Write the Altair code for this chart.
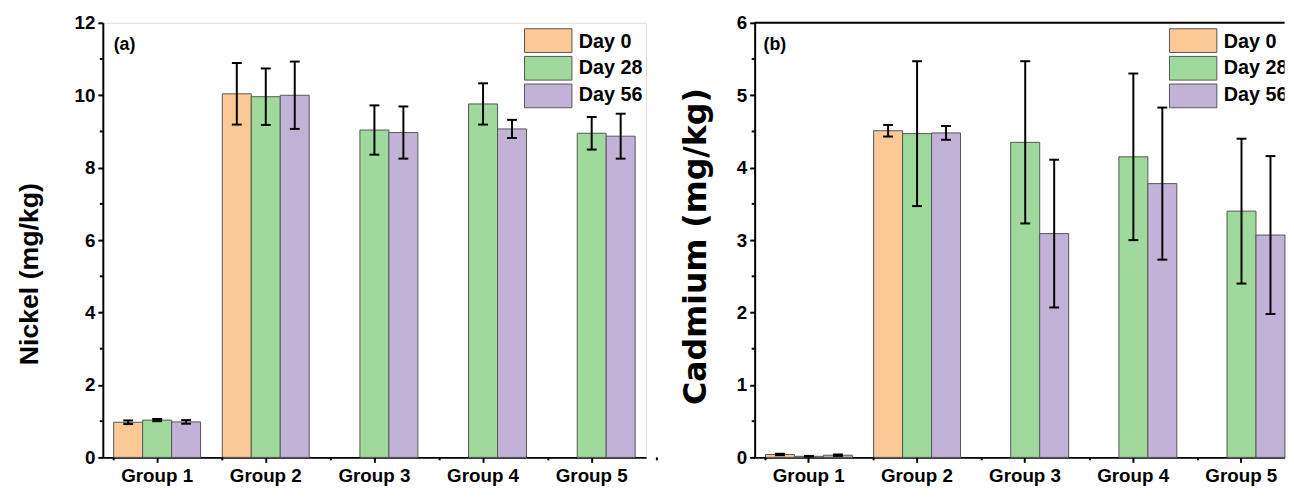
import altair as alt
import pandas as pd

groups = ["Group 1", "Group 2", "Group 3", "Group 4", "Group 5"]
days = ["Day 0", "Day 28", "Day 56"]
colors = ["#FCC896", "#9FD99C", "#C3B2D8"]

# Nickel (mg/kg)
ni_day0 = [0.97, 10.04, None, None, None]
ni_day0_err = [0.05, 0.85, None, None, None]
ni_day28 = [1.03, 9.96, 9.04, 9.76, 8.95]
ni_day28_err = [0.03, 0.78, 0.68, 0.57, 0.45]
ni_day56 = [0.98, 10.00, 8.97, 9.07, 8.87]
ni_day56_err = [0.05, 0.93, 0.72, 0.25, 0.62]

# Cadmium (mg/kg)
cd_day0 = [0.04, 4.51, None, None, None]
cd_day0_err = [0.01, 0.08, None, None, None]
cd_day28 = [0.015, 4.47, 4.35, 4.15, 3.40]
cd_day28_err = [0.005, 1.00, 1.12, 1.15, 1.00]
cd_day56 = [0.03, 4.48, 3.09, 3.78, 3.07]
cd_day56_err = [0.01, 0.095, 1.02, 1.05, 1.09]

ni_major = [0, 2, 4, 6, 8, 10, 12]
ni_minor = [1, 3, 5, 7, 9, 11]
cd_major = [0, 1, 2, 3, 4, 5, 6]
cd_minor = [0.5, 1.5, 2.5, 3.5, 4.5, 5.5]
x_minor_left = [0.5, 1.5, 2.5, 3.5, 4.5, 5.5]
x_minor_right = [0.5, 1.5, 2.5, 3.5, 4.5]

FONT = "Liberation Sans"
H = 440


def long(vals, errs):
    rows = []
    for d, vl, el in zip(days, vals, errs):
        for g, v, e in zip(groups, vl, el):
            if v is None:
                continue
            rows.append(dict(group=g, day=d, value=v, lo=v - e, hi=v + e))
    return pd.DataFrame(rows)


color_scale = alt.Scale(domain=days, range=colors)


def panel(df, ymax, major, minor, xminor, title, tfont, tsize, tpad, ttl_y, tag, tagx, legx,
          step, cropped):
    if cropped:
        # right panel is cut by the picture edge just after the last bar
        po, align = 0.05, 1.0
    else:
        po, align = 0.1, 0.5
    w = step * (5 - 0.2 + 2 * po)
    xsc = alt.Scale(domain=groups, paddingInner=0.2, paddingOuter=po, align=align)
    xaxis = alt.Axis(title=None, labelFont=FONT, labelFontSize=19, labelFontWeight="bold",
                     labelColor="black", labelAngle=0, tickSize=5, tickWidth=2,
                     tickColor="black", domainColor="black", domainWidth=2,
                     labelPadding=4, grid=False)
    ysc = alt.Scale(domain=[0, ymax], nice=False, zero=True)
    yaxis = alt.Axis(values=major, title=title, titleFont=tfont, titleFontSize=tsize,
                     titleFontWeight="bold", titleColor="black", titlePadding=tpad, titleY=ttl_y,
                     labelFont=FONT, labelFontSize=19, labelFontWeight="bold",
                     labelColor="black", labelPadding=3, tickSize=5, tickWidth=2,
                     tickColor="black", domainColor="black", domainWidth=2, grid=False)
    x = alt.X("group:N", scale=xsc, sort=groups, axis=xaxis)
    xo = alt.XOffset("day:N", scale=alt.Scale(domain=days, paddingInner=0, paddingOuter=0))
    base = alt.Chart(df)
    bars = base.mark_bar(stroke="#555555", strokeWidth=1).encode(
        x=x, xOffset=xo,
        y=alt.Y("value:Q", scale=ysc, axis=yaxis),
        color=alt.Color("day:N", scale=color_scale, legend=None),
    )
    rules = base.mark_rule(color="black", strokeWidth=2).encode(
        x=x, xOffset=xo, y=alt.Y("lo:Q", scale=ysc, axis=yaxis), y2="hi:Q")
    cap_hi = base.mark_tick(color="black", thickness=2, size=10, opacity=1).encode(
        x=x, xOffset=xo, y=alt.Y("hi:Q", scale=ysc, axis=yaxis))
    cap_lo = base.mark_tick(color="black", thickness=2, size=10, opacity=1).encode(
        x=x, xOffset=xo, y=alt.Y("lo:Q", scale=ysc, axis=yaxis))
    ymin = alt.Chart(pd.DataFrame({"v": minor})).mark_rule(color="black", strokeWidth=2).encode(
        y=alt.Y("v:Q", scale=ysc, axis=yaxis), x=alt.value(-3), x2=alt.value(0))
    tagc = alt.Chart(pd.DataFrame({"t": [tag]})).mark_text(
        font=FONT, fontSize=18, fontWeight="bold", color="black", align="left",
        baseline="alphabetic").encode(text="t:N", x=alt.value(tagx), y=alt.value(28))
    inner = alt.layer(bars, rules, cap_hi, cap_lo, ymin, tagc)

    lead = (po * step + 0.4 * step) / step if not cropped else (2 * po * step + 0.4 * step) / step
    xmin = alt.Chart(pd.DataFrame({"u": xminor})).mark_rule(
        color="black", strokeWidth=2).encode(
        x=alt.X("u:Q", scale=alt.Scale(domain=[1 - lead - 0.1, 1 - lead - 0.1 + w / step],
                                       nice=False, zero=False), axis=None),
        y=alt.value(H), y2=alt.value(H + 3))

    leg_df = pd.DataFrame({"day": days})
    leg_y = alt.Y("day:N", scale=alt.Scale(domain=days, range=[6, 86], paddingInner=0.143,
                                           paddingOuter=0), axis=None)
    leg_rect = alt.Chart(leg_df).mark_rect(stroke="#555555", strokeWidth=1).encode(
        y=leg_y, x=alt.value(legx), x2=alt.value(legx + 48),
        color=alt.Color("day:N", scale=color_scale, legend=None))
    leg_text = alt.Chart(leg_df).mark_text(
        font=FONT, fontSize=20, fontWeight="bold", color="black", align="left",
        baseline="middle", clip=True).encode(
        y=leg_y, x=alt.value(legx + 55), text="day:N")

    layers = [inner, xmin, leg_rect, leg_text]
    if cropped:
        top = alt.Chart(pd.DataFrame({"t": [0]})).mark_rule(color="black", strokeWidth=2).encode(
            x=alt.value(0), x2=alt.value(w), y=alt.value(0))
        layers += [top]
    ch = alt.layer(*layers).resolve_scale(x="independent", y="independent").properties(
        width=w, height=H)
    if cropped:
        ch = ch.properties(view=alt.ViewBackground(strokeOpacity=0))
    return ch


left = panel(long([ni_day0, ni_day28, ni_day56], [ni_day0_err, ni_day28_err, ni_day56_err]),
             12, ni_major, ni_minor, x_minor_left, "Nickel (mg/kg)", FONT, 27, 31, 254,
             "(a)", 11, 427, 110, False)
right = panel(long([cd_day0, cd_day28, cd_day56], [cd_day0_err, cd_day28_err, cd_day56_err]),
              6, cd_major, cd_minor, x_minor_right, "Cadmium (mg/kg)", "DejaVu Sans", 32, 24, 226,
              "(b)", 9, 420, 109.5, True)

chart = alt.hconcat(left, right, spacing=21).properties(
    padding={"left": 7, "top": 2, "right": 0, "bottom": 0}
).configure_view(stroke="black", strokeWidth=2).configure(background="white")

chart.save("out.html", embed_options={"renderer": "svg", "actions": False})
